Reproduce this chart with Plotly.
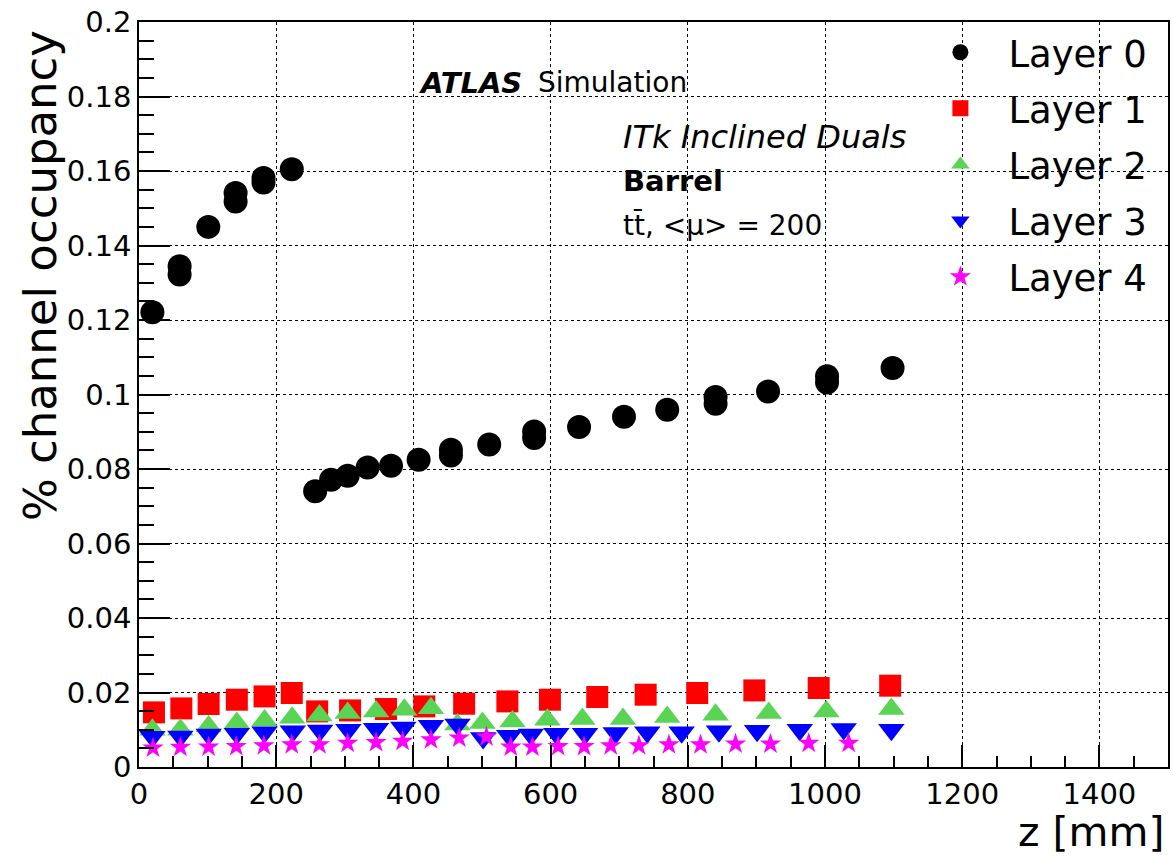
import plotly.graph_objects as go

# z positions [mm] and channel occupancy [%] per barrel layer
z_layer0 = [19.5, 59.2, 59.2, 101, 140.8, 140.8, 181.5, 181.5, 222.7, 256.8, 280, 304.2,
            333.3, 367.4, 407.6, 454.7, 454.7, 510.5, 576, 576, 641.5, 707, 770, 840.5,
            840.5, 917, 1003, 1003, 1098.5]
occ_layer0 = [0.1221, 0.1344, 0.1322, 0.1450, 0.1541, 0.1518, 0.1581, 0.1569, 0.1605,
              0.0740, 0.0771, 0.0782, 0.0804, 0.0809, 0.0825, 0.0852, 0.0836, 0.0866,
              0.0901, 0.0883, 0.0913, 0.0940, 0.0959, 0.0993, 0.0975, 0.1008, 0.1049,
              0.1032, 0.1071]

z_layer1 = [21.8, 61.7, 101.5, 142.6, 183, 222.7, 259.7, 307.7, 360, 415.9, 474, 537,
            599, 668, 738.6, 813.7, 897, 990.8, 1095]
occ_layer1 = [0.01466, 0.01573, 0.01691, 0.01807, 0.01895, 0.01987, 0.01493, 0.01519,
              0.01557, 0.01627, 0.01699, 0.01761, 0.01807, 0.01879, 0.01941, 0.01987,
              0.02056, 0.02121, 0.02183]

z_layer2 = [19.5, 60.3, 101.5, 142.6, 183, 223.3, 263, 304.2, 345.6, 386.8, 425.6, 464.3,
            500.7, 544.4, 595.3, 646.3, 705.5, 770, 840.5, 918, 1002, 1096.7]
occ_layer2 = [0.0100, 0.0100, 0.0109, 0.0118, 0.0125, 0.0132, 0.0138, 0.0145, 0.0149,
              0.0154, 0.0158, 0.0114, 0.0118, 0.0122, 0.0127, 0.0129, 0.0129, 0.0134,
              0.0140, 0.0145, 0.0149, 0.0156]

z_layer3 = [19.5, 60.3, 101.5, 142.6, 183, 224.2, 264, 305.2, 345.6, 385.3, 425.6, 464.3,
            501.7, 539.6, 571.2, 608.4, 650.2, 694.9, 740.9, 791, 845.4, 901, 963.2,
            1027.2, 1096.7]
occ_layer3 = [0.0081, 0.0082, 0.0087, 0.0089, 0.0093, 0.0096, 0.0098, 0.0100, 0.0103,
              0.0106, 0.0111, 0.0114, 0.0078, 0.0084, 0.0087, 0.0089, 0.0089, 0.0091,
              0.0093, 0.0093, 0.0096, 0.0097, 0.0100, 0.0102, 0.0100]

z_layer4 = [20.4, 60.3, 101.5, 141.8, 182, 222.7, 263, 304.2, 345.6, 384.3, 425.6, 466.8,
            506.5, 542, 573.5, 611, 648.8, 687.6, 728.8, 772.5, 818.6, 869.6, 920.5,
            976.3, 1034.5]
occ_layer4 = [0.0051, 0.0053, 0.0054, 0.0055, 0.0057, 0.0060, 0.0060, 0.0064, 0.0066,
              0.0069, 0.0073, 0.0078, 0.0081, 0.0054, 0.0054, 0.0055, 0.0055, 0.0057,
              0.0057, 0.0060, 0.0060, 0.0062, 0.0062, 0.0064, 0.0064]

layer_names = ["Layer 0", "Layer 1", "Layer 2", "Layer 3", "Layer 4"]
y_tick_vals = [0, 0.02, 0.04, 0.06, 0.08, 0.1, 0.12, 0.14, 0.16, 0.18, 0.2]
y_tick_text = ["0", "0.02", "0.04", "0.06", "0.08", "0.1", "0.12", "0.14", "0.16", "0.18", "0.2"]
x_tick_vals = [0, 200, 400, 600, 800, 1000, 1200, 1400]
x_tick_text = ["0", "200", "400", "600", "800", "1000", "1200", "1400"]

FONT = "DejaVu Sans"

series = [
    (z_layer0, occ_layer0, "circle", 24, "#000000"),
    (z_layer1, occ_layer1, "square", 22, "#ff0000"),
    (z_layer2, occ_layer2, "triangle-up", 23, "#59d454"),
    (z_layer3, occ_layer3, "triangle-down", 23, "#0000ff"),
    (z_layer4, occ_layer4, "star", 16, "#ff00ff"),
]

fig = go.Figure()
for name, (zs, occ, symbol, size, color) in zip(layer_names, series):
    fig.add_trace(go.Scatter(
        x=zs, y=occ, mode="markers", name=name, legendgroup=name,
        marker=dict(symbol=symbol, size=size, color=color, line=dict(width=0)),
    ))

axis_common = dict(
    showline=True, linecolor="black", linewidth=1.5, mirror=True,
    ticks="inside", tickcolor="black", tickwidth=1.5,
    showgrid=True, gridcolor="black", gridwidth=1, griddash="3px,3px",
    zeroline=False,
    tickfont=dict(family=FONT, size=29, color="black"),
)

fig.update_xaxes(
    range=[0, 1500], tickvals=x_tick_vals, ticktext=x_tick_text, ticklen=22,
    minor=dict(dtick=50, tick0=0, ticks="inside", ticklen=11, tickcolor="black",
               tickwidth=1.5, showgrid=False),
    **axis_common,
)
fig.update_yaxes(
    range=[0, 0.2], tickvals=y_tick_vals, ticktext=y_tick_text, ticklen=31,
    minor=dict(dtick=0.005, tick0=0, ticks="inside", ticklen=15, tickcolor="black",
               tickwidth=1.5, showgrid=False),
    **axis_common,
)

annotations = [
    dict(text="% channel occupancy", x=-0.0963, y=0.9924, xanchor="center", yanchor="top",
         textangle=-90, font=dict(size=45)),
    dict(text="z [mm]", x=0.9985, y=-0.0868, xanchor="right", yanchor="middle",
         font=dict(size=41)),
    dict(text="<b><i>ATLAS</i></b>", x=0.2704, y=0.9185, xanchor="left", yanchor="middle",
         font=dict(size=29)),
    dict(text="Simulation", x=0.3857, y=0.9185, xanchor="left", yanchor="middle",
         font=dict(size=28)),
    dict(text="<i>ITk Inclined Duals</i>", x=0.4683, y=0.846, xanchor="left",
         yanchor="middle", font=dict(size=32)),
    dict(text="<b>Barrel</b>", x=0.4683, y=0.7869, xanchor="left", yanchor="middle",
         font=dict(size=29)),
    dict(text="tt\u0304, <\u03bc> = 200", x=0.4683, y=0.7279, xanchor="left",
         yanchor="middle", font=dict(size=28)),
]
for a in annotations:
    a.update(xref="paper", yref="paper", showarrow=False)
    a["font"].update(family=FONT, color="black")

fig.update_layout(
    width=1173, height=861,
    margin=dict(l=139, r=3, t=22, b=94),
    paper_bgcolor="white", plot_bgcolor="white",
    font=dict(family=FONT, color="black"),
    showlegend=True,
    legend=dict(
        x=0.7516, y=1.0004, xanchor="left", yanchor="top",
        bgcolor="rgba(0,0,0,0)", borderwidth=0,
        font=dict(family=FONT, size=37, color="black"),
        itemwidth=86, traceorder="grouped", tracegroupgap=5,
    ),
    annotations=annotations,
)

fig.write_html("out.html")
